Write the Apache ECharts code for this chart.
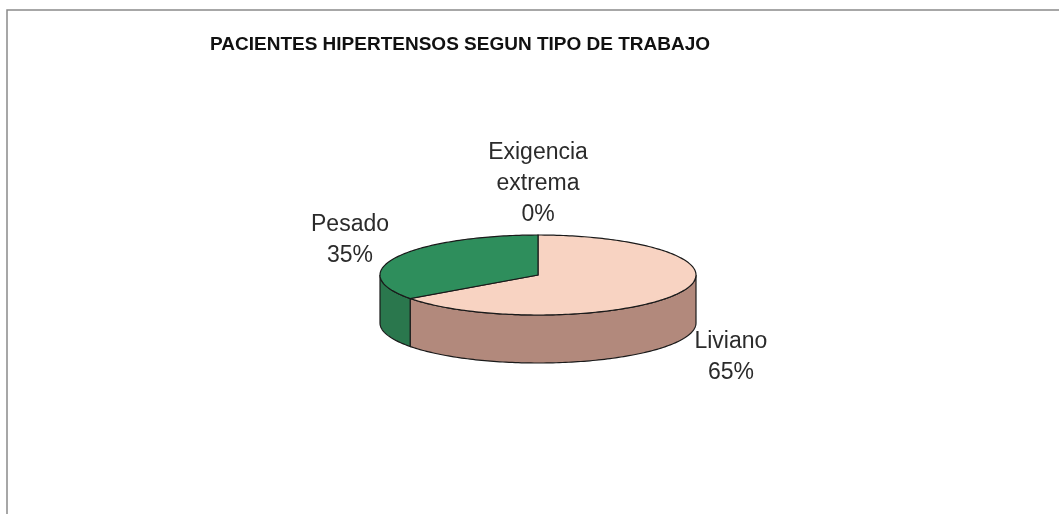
<!DOCTYPE html>
<html>
<head>
<meta charset="utf-8">
<script src="https://cdn.jsdelivr.net/npm/echarts@6/dist/echarts.min.js"></script>
<style>
  html, body { margin: 0; padding: 0; background: #fff; }
  #pie3d { width: 1059px; height: 514px; }
</style>
</head>
<body>
<div id="pie3d"></div>
<script>
// data (Excel order: starts at 12 o'clock, clockwise)
var categories = ['Liviano', 'Pesado', 'Exigencia\nextrema'];
var values = [65, 35, 0];
var topColors = ['#F8D3C2', '#2E8E5C'];
var sideColors = ['#B2897C', '#2A774D'];

var chartDom = document.getElementById('pie3d');
var myChart = echarts.init(chartDom);
var option;

// pie geometry
var CX = 538, CY = 275, RX = 158, RY = 40, DEPTH = 48;
var total = values.reduce(function (a, b) { return a + b; }, 0);

function pt(a, dy) {
    return [CX + RX * Math.sin(a), CY - RY * Math.cos(a) + (dy || 0)];
}
function arc(a0, a1, dy) {
    var pts = [];
    var n = Math.max(2, Math.ceil(Math.abs(a1 - a0) / 0.02));
    for (var i = 0; i <= n; i++) {
        pts.push(pt(a0 + (a1 - a0) * i / n, dy));
    }
    return pts;
}

function renderSlice(params, api) {
    var idx = params.dataIndex;
    var v = api.value(0);
    var before = 0;
    for (var i = 0; i < idx; i++) before += values[i];
    var a0 = before / total * Math.PI * 2;
    var a1 = (before + v) / total * Math.PI * 2;
    var children = [];
    var col = idx % topColors.length;

    if (v > 0) {
        // front wall: only the part of the rim facing the viewer
        var s = Math.max(a0, Math.PI / 2), e = Math.min(a1, Math.PI * 1.5);
        if (e > s) {
            var side = arc(s, e, 0).concat(arc(e, s, DEPTH));
            children.push({
                type: 'polygon',
                shape: { points: side },
                style: { fill: sideColors[col], stroke: '#1a1a1a', lineWidth: 1.2 }
            });
        }
        var top = [[CX, CY]].concat(arc(a0, a1, 0));
        children.push({
            type: 'polygon',
            shape: { points: top },
            style: { fill: topColors[col], stroke: '#1a1a1a', lineWidth: 1.2 }
        });
    }

    // label just outside the rim at the middle angle
    var mid = (a0 + a1) / 2;
    var dx = Math.sin(mid), dyv = -Math.cos(mid);
    var px = CX + (RX + 20) * dx;
    var py = CY + (RY + 5) * dyv + (dyv > 0 ? DEPTH : 0);
    var txt = categories[idx] + '\n' + Math.round(v / total * 100) + '%';
    var lines = txt.split('\n');
    var w = 0;
    lines.forEach(function (l) { w = Math.max(w, l.length * 11); });
    var h = lines.length * 31;
    children.push({
        type: 'text',
        style: {
            text: txt,
            x: px + dx * w / 2,
            y: py + dyv * h / 2,
            align: 'center',
            verticalAlign: 'middle',
            fontFamily: 'Liberation Sans, Arial, sans-serif',
            fontSize: 23,
            lineHeight: 31,
            fill: '#2b2b2b'
        }
    });

    return { type: 'group', children: children };
}

option = {
    backgroundColor: '#ffffff',
    animation: false,
    title: {
        text: 'PACIENTES HIPERTENSOS SEGUN TIPO DE TRABAJO',
        left: 205,
        top: 30,
        textStyle: {
            fontFamily: 'Liberation Sans, Arial, sans-serif',
            fontSize: 19,
            fontWeight: 'bold',
            color: '#111'
        }
    },
    graphic: [
        {
            type: 'rect',
            shape: { x: 7, y: 10, width: 1200, height: 700 },
            style: { fill: 'none', stroke: '#8a8a8a', lineWidth: 1.5 },
            silent: true
        }
    ],
    series: [
        {
            type: 'custom',
            coordinateSystem: 'none',
            renderItem: renderSlice,
            data: values.map(function (v) { return [v]; })
        }
    ]
};

option && myChart.setOption(option);
</script>
</body>
</html>
